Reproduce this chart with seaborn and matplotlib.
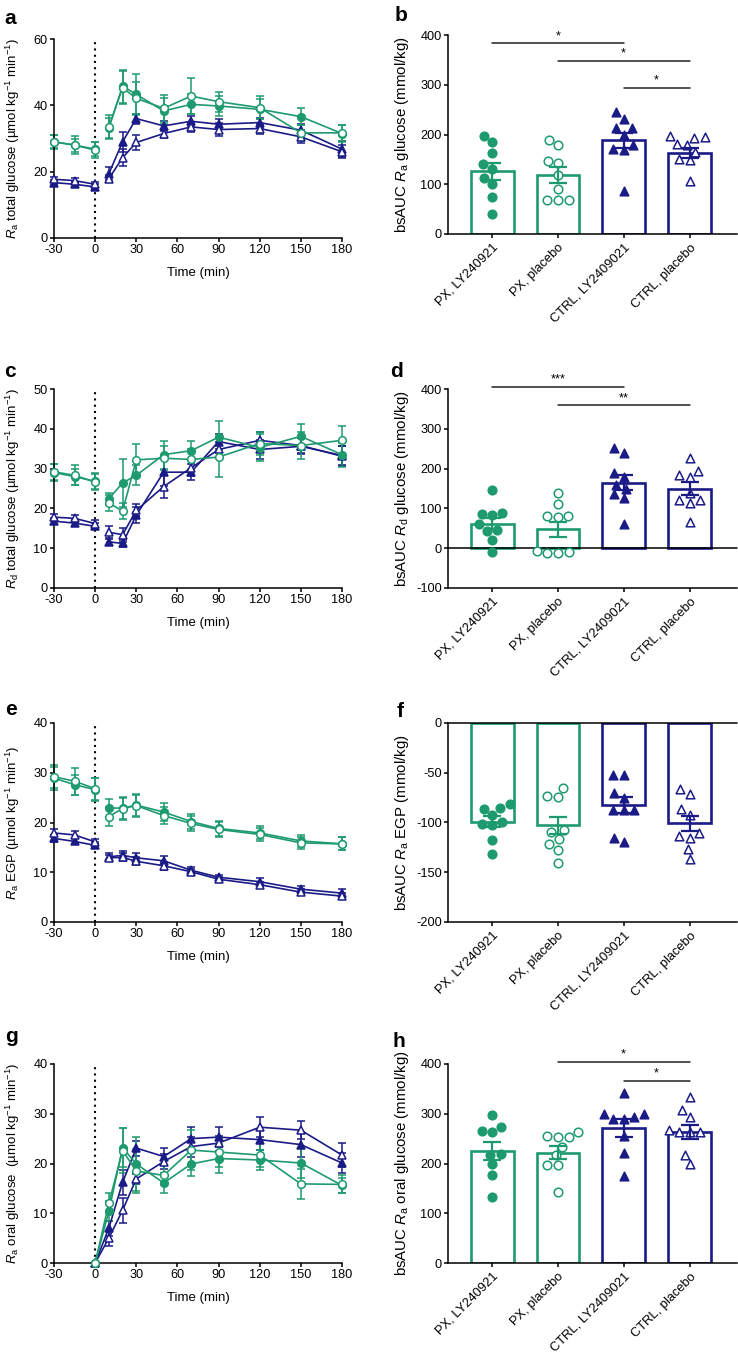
import numpy as np
import pandas as pd
import matplotlib
matplotlib.use("Agg")
import matplotlib.pyplot as plt
import seaborn as sns

# ---------------- data ----------------
time_full = [-30, -15, 0, 10, 20, 30, 50, 70, 90, 120, 150, 180]
time_oral = [0, 10, 20, 30, 50, 70, 90, 120, 150, 180]
time_ticks = [-30, 0, 30, 60, 90, 120, 150, 180]

groups = ["PX, LY240921", "PX, placebo", "CTRL, LY2409021", "CTRL, placebo"]

# panel a: Ra total glucose
a_px_ly = [29.0, 28.0, 26.8, 33.2, 45.8, 43.3, 38.3, 40.3, 39.8, 38.8, 36.6, 31.5]
a_px_ly_sem = [2.2, 2.0, 2.0, 3.0, 5.0, 6.0, 4.0, 3.0, 3.0, 3.0, 2.5, 2.5]
a_px_pl = [29.0, 28.0, 26.5, 33.5, 45.3, 42.1, 39.1, 42.8, 41.1, 39.3, 31.7, 31.7]
a_px_pl_sem = [2.0, 2.8, 2.3, 3.5, 5.0, 5.0, 4.0, 5.5, 3.0, 3.5, 2.5, 2.5]
a_ct_ly = [16.7, 16.2, 15.4, 19.4, 29.0, 36.0, 33.8, 35.2, 34.3, 34.8, 32.5, 26.8]
a_ct_ly_sem = [0.8, 0.7, 0.8, 2.0, 3.0, 1.5, 1.5, 1.5, 1.5, 1.5, 2.0, 2.5]
a_ct_pl = [17.7, 17.3, 16.2, 17.9, 24.2, 28.8, 31.5, 33.5, 32.7, 33.0, 30.5, 26.0]
a_ct_pl_sem = [0.8, 0.8, 0.8, 1.0, 2.5, 2.3, 1.2, 1.5, 2.0, 1.5, 2.0, 2.0]

# panel c: Rd total glucose
c_px_ly = [29.0, 28.0, 26.8, 22.4, 26.4, 28.3, 33.5, 34.5, 37.9, 35.3, 38.1, 33.5]
c_px_ly_sem = [2.2, 2.0, 2.0, 1.5, 6.0, 2.5, 3.5, 2.5, 4.0, 3.5, 3.0, 3.0]
c_px_pl = [29.2, 28.3, 26.6, 21.4, 19.3, 32.2, 32.6, 32.3, 32.9, 36.3, 35.8, 37.1]
c_px_pl_sem = [2.0, 2.5, 2.0, 2.0, 2.0, 4.0, 3.0, 2.5, 5.0, 3.0, 3.5, 3.5]
c_ct_ly = [16.8, 16.3, 15.5, 11.6, 11.2, 18.3, 29.1, 29.1, 36.8, 34.8, 35.6, 33.3]
c_ct_ly_sem = [0.8, 0.7, 0.8, 0.8, 0.8, 2.0, 3.5, 2.0, 2.0, 2.5, 2.0, 2.5]
c_ct_pl = [17.8, 17.5, 16.2, 14.0, 13.4, 19.5, 25.5, 30.2, 34.8, 37.1, 35.8, 33.1]
c_ct_pl_sem = [0.8, 0.8, 0.8, 1.5, 1.8, 1.5, 3.0, 2.0, 2.0, 2.0, 2.0, 2.5]

# panel e: Ra EGP
e_px_ly = [28.9, 27.6, 26.6, 22.9, 22.9, 23.5, 22.1, 20.2, 18.8, 17.9, 16.3, 15.7]
e_px_ly_sem = [2.3, 2.0, 2.3, 1.8, 2.2, 2.2, 1.8, 1.5, 1.5, 1.3, 1.2, 1.3]
e_px_pl = [29.2, 28.3, 26.8, 21.2, 22.8, 23.4, 21.4, 19.8, 18.6, 17.6, 15.9, 15.7]
e_px_pl_sem = [2.3, 2.7, 2.2, 2.0, 2.2, 2.2, 1.8, 1.5, 1.5, 1.3, 1.2, 1.3]
e_ct_ly = [16.8, 16.2, 15.4, 13.1, 13.4, 12.9, 12.3, 10.4, 9.0, 8.1, 6.6, 5.8]
e_ct_ly_sem = [0.7, 0.6, 0.6, 0.7, 0.8, 1.0, 0.9, 0.6, 0.4, 0.7, 0.7, 0.8]
e_ct_pl = [17.9, 17.5, 16.1, 12.9, 13.0, 12.2, 11.3, 10.1, 8.6, 7.5, 6.0, 5.2]
e_ct_pl_sem = [0.7, 0.7, 0.5, 0.6, 0.8, 0.8, 0.8, 0.5, 0.4, 0.6, 0.6, 0.6]

# panel g: Ra oral glucose
g_px_ly = [0.0, 10.4, 23.2, 19.9, 16.1, 19.9, 21.0, 20.7, 20.1, 15.6]
g_px_ly_sem = [0.0, 2.0, 4.0, 5.5, 2.0, 2.5, 3.0, 2.0, 3.0, 1.5]
g_px_pl = [0.0, 12.0, 22.6, 18.5, 17.6, 22.7, 22.3, 21.7, 15.9, 15.8]
g_px_pl_sem = [0.0, 2.0, 4.5, 4.5, 2.0, 4.0, 3.0, 2.5, 3.0, 1.8]
g_ct_ly = [0.0, 7.0, 16.2, 23.1, 21.4, 25.0, 25.3, 24.8, 23.8, 20.1]
g_ct_ly_sem = [0.0, 1.5, 2.5, 1.5, 1.8, 2.3, 2.0, 2.0, 2.5, 2.0]
g_ct_pl = [0.0, 5.0, 10.6, 16.9, 20.4, 23.4, 24.1, 27.3, 26.7, 21.7]
g_ct_pl_sem = [0.0, 1.5, 2.5, 1.0, 1.5, 2.0, 1.5, 2.0, 1.8, 2.5]

# panel b: bsAUC Ra glucose
b_means = [126, 118, 188, 163]
b_sems = [17, 16, 16, 10]
b_px_ly = [197, 184, 162, 140, 131, 112, 100, 74, 40]
b_px_pl = [188, 178, 147, 142, 118, 90, 68, 68, 68]
b_ct_ly = [246, 232, 213, 213, 200, 178, 170, 168, 86]
b_ct_pl = [196, 195, 193, 180, 178, 165, 150, 148, 106]
b_sig = [(0, 2, 383, "*"), (1, 3, 348, "*"), (2, 3, 294, "*")]

# panel d: bsAUC Rd glucose
d_means = [61, 47, 165, 150]
d_sems = [15, 20, 20, 17]
d_px_ly = [145, 89, 87, 83, 60, 45, 43, 21, -10]
d_px_pl = [138, 110, 82, 80, 78, -8, -10, -12, -12]
d_ct_ly = [252, 240, 188, 180, 160, 150, 135, 125, 60]
d_ct_pl = [226, 195, 185, 178, 139, 122, 120, 113, 67]
d_sig = [(0, 2, 405, "***"), (1, 3, 359, "**")]

# panel f: bsAUC Ra EGP
f_means = [-99, -103, -82, -101]
f_sems = [6, 9, 8, 8]
f_px_ly = [-81, -85, -86, -92, -100, -102, -103, -118, -132]
f_px_pl = [-65, -73, -74, -108, -110, -117, -122, -128, -141]
f_ct_ly = [-52, -52, -70, -75, -87, -87, -87, -116, -120]
f_ct_pl = [-66, -71, -86, -92, -111, -114, -116, -127, -137]
f_sig = []

# panel h: bsAUC Ra oral glucose
h_means = [225, 222, 272, 264]
h_sems = [18, 13, 18, 14]
h_px_ly = [298, 273, 265, 263, 220, 218, 198, 177, 133]
h_px_pl = [264, 256, 254, 253, 234, 217, 197, 197, 142]
h_ct_ly = [341, 300, 300, 293, 289, 289, 255, 221, 174]
h_ct_pl = [333, 308, 293, 268, 264, 264, 264, 217, 199]
h_sig = [(1, 3, 404, "*"), (2, 3, 366, "*")]

# ---------------- style ----------------
GREEN = "#1E9B6E"
NAVY = "#1B1B87"
colors = [GREEN, GREEN, NAVY, NAVY]
markers = ["o", "o", "^", "^"]
filled = [True, False, True, False]

sns.set_theme(style="ticks")
plt.rcParams["font.family"] = ["Liberation Sans", "DejaVu Sans"]
plt.rcParams["mathtext.fontset"] = "custom"
plt.rcParams["mathtext.rm"] = "Liberation Sans"
plt.rcParams["mathtext.it"] = "Liberation Sans:italic"
plt.rcParams["mathtext.bf"] = "Liberation Sans:bold"
plt.rcParams["axes.unicode_minus"] = False
for k in ["text.color", "axes.labelcolor", "xtick.color", "ytick.color", "axes.edgecolor"]:
    plt.rcParams[k] = "black"
plt.rcParams["axes.linewidth"] = 1.1

W, H = 738, 1359
fig = plt.figure(figsize=(W / 100, H / 100), dpi=100)


def rect(x0, yt, x1, yb):
    return [x0 / W, 1 - yb / H, (x1 - x0) / W, (yb - yt) / H]


TICK_FS = 9.2
LEFT_LAB_FS = 9.5
XLAB_FS = 9.5
RIGHT_LAB_FS = 10.8
CAT_FS = 9.3


def style_axis(ax):
    sns.despine(ax=ax)
    ax.tick_params(direction="out", length=3, width=1.1, labelsize=TICK_FS, pad=1.5)


def line_panel(ax, times, series, ylim, yticks, ylabel, split=True):
    for mean, sem, col, mk, fl in series:
        df = pd.DataFrame({"time": times, "value": mean})
        parts = [df[df["time"] <= 0], df[df["time"] > 0]] if split else [df]
        for part in parts:
            sns.lineplot(data=part, x="time", y="value", ax=ax, color=col,
                         linewidth=1.2, marker=mk, markersize=5.5,
                         markerfacecolor=col if fl else "white",
                         markeredgecolor=col, markeredgewidth=1.1,
                         clip_on=False, zorder=3, errorbar=None)
        cont = ax.errorbar(times, mean, yerr=sem, fmt="none", ecolor=col,
                           elinewidth=1.1, capsize=2.6, capthick=1.1, zorder=2)
        for art in cont.get_children():
            art.set_clip_on(False)
    ax.axvline(0, color="black", linestyle=(0, (1, 2)), linewidth=1.5, zorder=1)
    ax.set_xlim(-30, 180)
    ax.set_xticks(time_ticks)
    ax.set_ylim(*ylim)
    ax.set_yticks(yticks)
    ax.set_xlabel("Time (min)", fontsize=XLAB_FS, labelpad=8)
    ax.set_ylabel(ylabel, fontsize=LEFT_LAB_FS)
    ax.yaxis.set_label_coords(-0.11, 0.5)
    style_axis(ax)


def bar_panel(ax, means, sems, pts_list, ylim, yticks, ylabel, sigs, zero_line=False):
    df_bar = pd.DataFrame({"group": groups, "mean": means})
    sns.barplot(data=df_bar, x="group", y="mean", hue="group", order=groups,
                hue_order=groups, palette=dict(zip(groups, colors)), fill=False,
                linewidth=1.9, width=0.65, errorbar=None, legend=False, ax=ax)
    for g, pts, col, mk, fl in zip(groups, pts_list, colors, markers, filled):
        dfp = pd.DataFrame({"group": [g] * len(pts), "value": pts})
        n0 = len(ax.collections)
        sns.swarmplot(data=dfp, x="group", y="value", order=groups, color=col,
                      marker=mk, size=6.2, edgecolor=col, linewidth=1.1, ax=ax,
                      zorder=3, warn_thresh=1.0)
        for c in ax.collections[n0:]:
            c.set_facecolor(col if fl else "white")
            c.set_edgecolor(col)
            c.set_linewidth(1.1)
            c.set_clip_on(False)
    for i, (m, s) in enumerate(zip(means, sems)):
        ax.errorbar(i, m, yerr=s, fmt="none", ecolor=colors[i], elinewidth=1.6,
                    capsize=6.5, capthick=1.6, zorder=4)
    if zero_line:
        ax.axhline(0, color="black", linewidth=1.1, zorder=2, clip_on=False)
    for i1, i2, y, lab in sigs:
        ax.plot([i1, i2], [y, y], color="#222222", linewidth=1.1, clip_on=False)
        ax.text((i1 + i2) / 2, y + (ylim[1] - ylim[0]) * 0.006, lab, ha="center",
                va="bottom", fontsize=TICK_FS)
    ax.set_xlim(-0.67, 3.72)
    ax.set_ylim(*ylim)
    ax.set_yticks(yticks)
    ax.set_xticks(range(4))
    ax.set_xticklabels(groups, rotation=45, ha="right", rotation_mode="anchor")
    ax.set_xlabel("")
    ax.set_ylabel(ylabel, fontsize=RIGHT_LAB_FS)
    ax.yaxis.set_label_coords(-0.128, 0.5)
    style_axis(ax)
    ax.tick_params(axis="x", labelsize=CAT_FS, pad=2.5)


ylab_tail = r" (µmol kg$^{-1}$ min$^{-1}$)"

rows_left = [(39, 238), (389, 588), (723, 922), (1064, 1263)]
rows_right = [(35, 234), (389, 588), (723, 922), (1064, 1263)]

# left panels
ax_a = fig.add_axes(rect(54, rows_left[0][0], 342, rows_left[0][1]))
line_panel(ax_a, time_full,
           [(a_ct_ly, a_ct_ly_sem, NAVY, "^", True), (a_ct_pl, a_ct_pl_sem, NAVY, "^", False),
            (a_px_ly, a_px_ly_sem, GREEN, "o", True), (a_px_pl, a_px_pl_sem, GREEN, "o", False)],
           (0, 60), [0, 20, 40, 60], r"$\mathit{R}_\mathrm{a}$ total glucose" + ylab_tail)

ax_c = fig.add_axes(rect(54, rows_left[1][0], 342, rows_left[1][1]))
line_panel(ax_c, time_full,
           [(c_ct_ly, c_ct_ly_sem, NAVY, "^", True), (c_ct_pl, c_ct_pl_sem, NAVY, "^", False),
            (c_px_ly, c_px_ly_sem, GREEN, "o", True), (c_px_pl, c_px_pl_sem, GREEN, "o", False)],
           (0, 50), [0, 10, 20, 30, 40, 50], r"$\mathit{R}_\mathrm{d}$ total glucose" + ylab_tail)

ax_e = fig.add_axes(rect(54, rows_left[2][0], 342, rows_left[2][1]))
line_panel(ax_e, time_full,
           [(e_ct_ly, e_ct_ly_sem, NAVY, "^", True), (e_ct_pl, e_ct_pl_sem, NAVY, "^", False),
            (e_px_ly, e_px_ly_sem, GREEN, "o", True), (e_px_pl, e_px_pl_sem, GREEN, "o", False)],
           (0, 40), [0, 10, 20, 30, 40], r"$\mathit{R}_\mathrm{a}$ EGP" + ylab_tail)

ax_g = fig.add_axes(rect(54, rows_left[3][0], 342, rows_left[3][1]))
line_panel(ax_g, time_oral,
           [(g_ct_ly, g_ct_ly_sem, NAVY, "^", True), (g_ct_pl, g_ct_pl_sem, NAVY, "^", False),
            (g_px_ly, g_px_ly_sem, GREEN, "o", True), (g_px_pl, g_px_pl_sem, GREEN, "o", False)],
           (0, 40), [0, 10, 20, 30, 40], r"$\mathit{R}_\mathrm{a}$ oral glucose " + ylab_tail,
           split=False)

# right panels
ax_b = fig.add_axes(rect(448, rows_right[0][0], 737, rows_right[0][1]))
bar_panel(ax_b, b_means, b_sems, [b_px_ly, b_px_pl, b_ct_ly, b_ct_pl], (0, 400),
          [0, 100, 200, 300, 400], r"bsAUC $\mathit{R}_\mathrm{a}$ glucose (mmol/kg)", b_sig)

ax_d = fig.add_axes(rect(448, rows_right[1][0], 737, rows_right[1][1]))
bar_panel(ax_d, d_means, d_sems, [d_px_ly, d_px_pl, d_ct_ly, d_ct_pl], (-100, 400),
          [-100, 0, 100, 200, 300, 400], r"bsAUC $\mathit{R}_\mathrm{d}$ glucose (mmol/kg)",
          d_sig, zero_line=True)

ax_f = fig.add_axes(rect(448, rows_right[2][0], 737, rows_right[2][1]))
bar_panel(ax_f, f_means, f_sems, [f_px_ly, f_px_pl, f_ct_ly, f_ct_pl], (-200, 0),
          [-200, -150, -100, -50, 0], r"bsAUC $\mathit{R}_\mathrm{a}$ EGP (mmol/kg)",
          f_sig, zero_line=True)

ax_h = fig.add_axes(rect(448, rows_right[3][0], 737, rows_right[3][1]))
bar_panel(ax_h, h_means, h_sems, [h_px_ly, h_px_pl, h_ct_ly, h_ct_pl], (0, 400),
          [0, 100, 200, 300, 400], r"bsAUC $\mathit{R}_\mathrm{a}$ oral glucose (mmol/kg)", h_sig)

# panel letters
for lab, x, y in [("a", 4, 24), ("b", 395, 21), ("c", 4, 377), ("d", 390, 377),
                  ("e", 5, 715), ("f", 397, 717), ("g", 5, 1042), ("h", 393, 1047)]:
    fig.text(x / W, 1 - y / H, lab, fontsize=15, fontweight="bold",
             ha="left", va="baseline")

fig.savefig("out.png", dpi=100)
